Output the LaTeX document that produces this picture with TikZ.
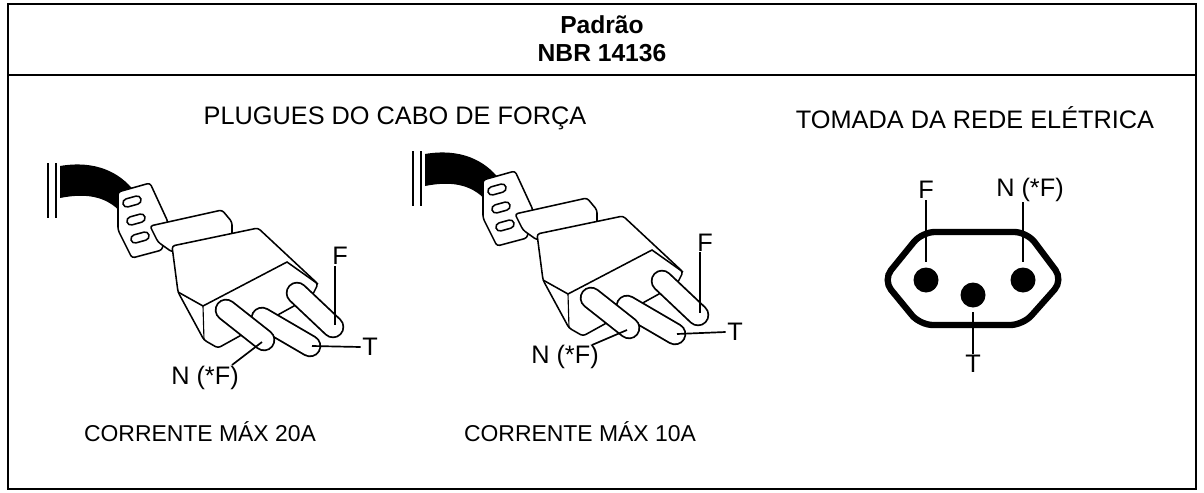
\documentclass[tikz,border=0pt]{standalone}
\usepackage{fontspec}
\setmainfont{Liberation Sans}
\usetikzlibrary{positioning}

\tikzset{
    lbl/.style={font=\fontsize{18}{20}\selectfont, inner sep=1pt},
    head/.style={font=\fontsize{17.5}{20}\selectfont\bfseries, align=center},
    lead/.style={line width=1.2pt},
    part/.style={draw, line width=1.1pt, fill=white, line join=round, rounded corners=2pt}
}

% one cord plug, pixel coordinates
\newcommand{\drawplug}{%
    % cable end
    \draw[line width=1.6pt] (48,163) -- (48,218) (56,163) -- (56,218);
    \fill (60,166) .. controls (95,160) and (120,172) .. (135,192)
        -- (124,216) .. controls (110,198) and (90,192) .. (60,198) -- cycle;
    % strain relief
    \draw[part] (118,192) -- (150,183) -- (168,222) -- (162,250) -- (132,258) -- (118,230) -- cycle;
    \foreach \k in {0,1,2} {
        \draw[part, rounded corners=3pt] (122+4*\k,200+18*\k) -- (140+4*\k,195+18*\k) -- (142+4*\k,203+18*\k) -- (124+4*\k,208+18*\k) -- cycle;
    }
    % collar
    \draw[part] (150,226) -- (222,210) -- (232,222) -- (232,236) -- (172,252) -- (158,242) -- cycle;
    % main body
    \draw[part] (172,246) -- (258,228) -- (318,284) -- (312,296) -- (218,348) -- (204,340) -- (178,292) -- cycle;
    \draw[line width=1.1pt] (178,292) -- (203,306) -- (287,262) -- (318,284);
    \draw[line width=0.8pt] (203,306) -- (204,340);
    % pins
    \foreach \a/\b in {{(297,293)}/{(333,327)}, {(262,318)}/{(310,346)}, {(226,310)}/{(264,340)}} {
        \draw[line width=16pt, line cap=round] \a -- \b;
        \draw[white, line width=13.4pt, line cap=round] \a -- \b;
    }
}

\begin{document}
\begin{tikzpicture}[x=0.025cm, y=-0.025cm]
    \useasboundingbox (0,0) rectangle (1204,493);
    \draw[line width=1.2pt] (8,4) rectangle (1196,489);
    \draw[line width=1.2pt] (8,75) -- (1196,75);

    % header
    \node[head] (title) at (602,39) {Padrão\\NBR 14136};
    \node[lbl] (plughead) at (395,118) {PLUGUES DO CABO DE FORÇA};
    \node[lbl] (sockhead) at (975,118) {TOMADA DA REDE ELÉTRICA};

    % plug 20A
    \drawplug
    \node[lbl] (f1) at (340,256) {F};
    \node[lbl] (t1) at (370,347) {T};
    \node[lbl] (n1) at (205,378) {N (*F)};
    \coordinate (pf1) at (335,325);
    \coordinate (pt1) at (312,346);
    \coordinate (pn1) at (262,342);
    \draw[lead] (335,266) -- (pf1);
    \draw[lead] (t1.west) -- (pt1);
    \draw[lead] (232,365) -- (pn1);
    \node[lbl, font=\fontsize{16.3}{18}\selectfont] (max20) at (200,432) {CORRENTE MÁX 20A};

    % plug 10A
    \begin{scope}[shift={(365,-12)}]
        \drawplug
    \end{scope}
    \node[lbl] (f2) at (705,243) {F};
    \node[lbl] (t2) at (735,332) {T};
    \node[lbl] (n2) at (565,357) {N (*F)};
    \coordinate (pf2) at (700,313);
    \coordinate (pt2) at (677,334);
    \coordinate (pn2) at (627,330);
    \draw[lead] (700,252) -- (pf2);
    \draw[lead] (t2.west) -- (pt2);
    \draw[lead] (592,345) -- (pn2);
    \node[lbl, font=\fontsize{16.3}{18}\selectfont] (max10) at (580,432) {CORRENTE MÁX 10A};

    % socket
    \draw[line width=4.5pt, rounded corners=9pt]
        (922,232) -- (1027,232) -- (1063,280) -- (1023,325) -- (920,325) -- (883,280) -- cycle;
    \fill (926,280) circle (12.5);
    \fill (1023,280) circle (12.5);
    \fill (973,295) circle (12.5);
    \node[lbl] (fs) at (926,190) {F};
    \node[lbl] (ns) at (1030,190) {N (*F)};
    \node[lbl] (ts) at (973,364) {T};
    \coordinate (hf) at (926,262);
    \coordinate (hn) at (1023,262);
    \coordinate (ht) at (973,312);
    \draw[lead] (fs.south) -- (hf);
    \draw[lead] (1023,202) -- (hn);
    \draw[lead] (ts.north) -- (ht);
\end{tikzpicture}
\end{document}
